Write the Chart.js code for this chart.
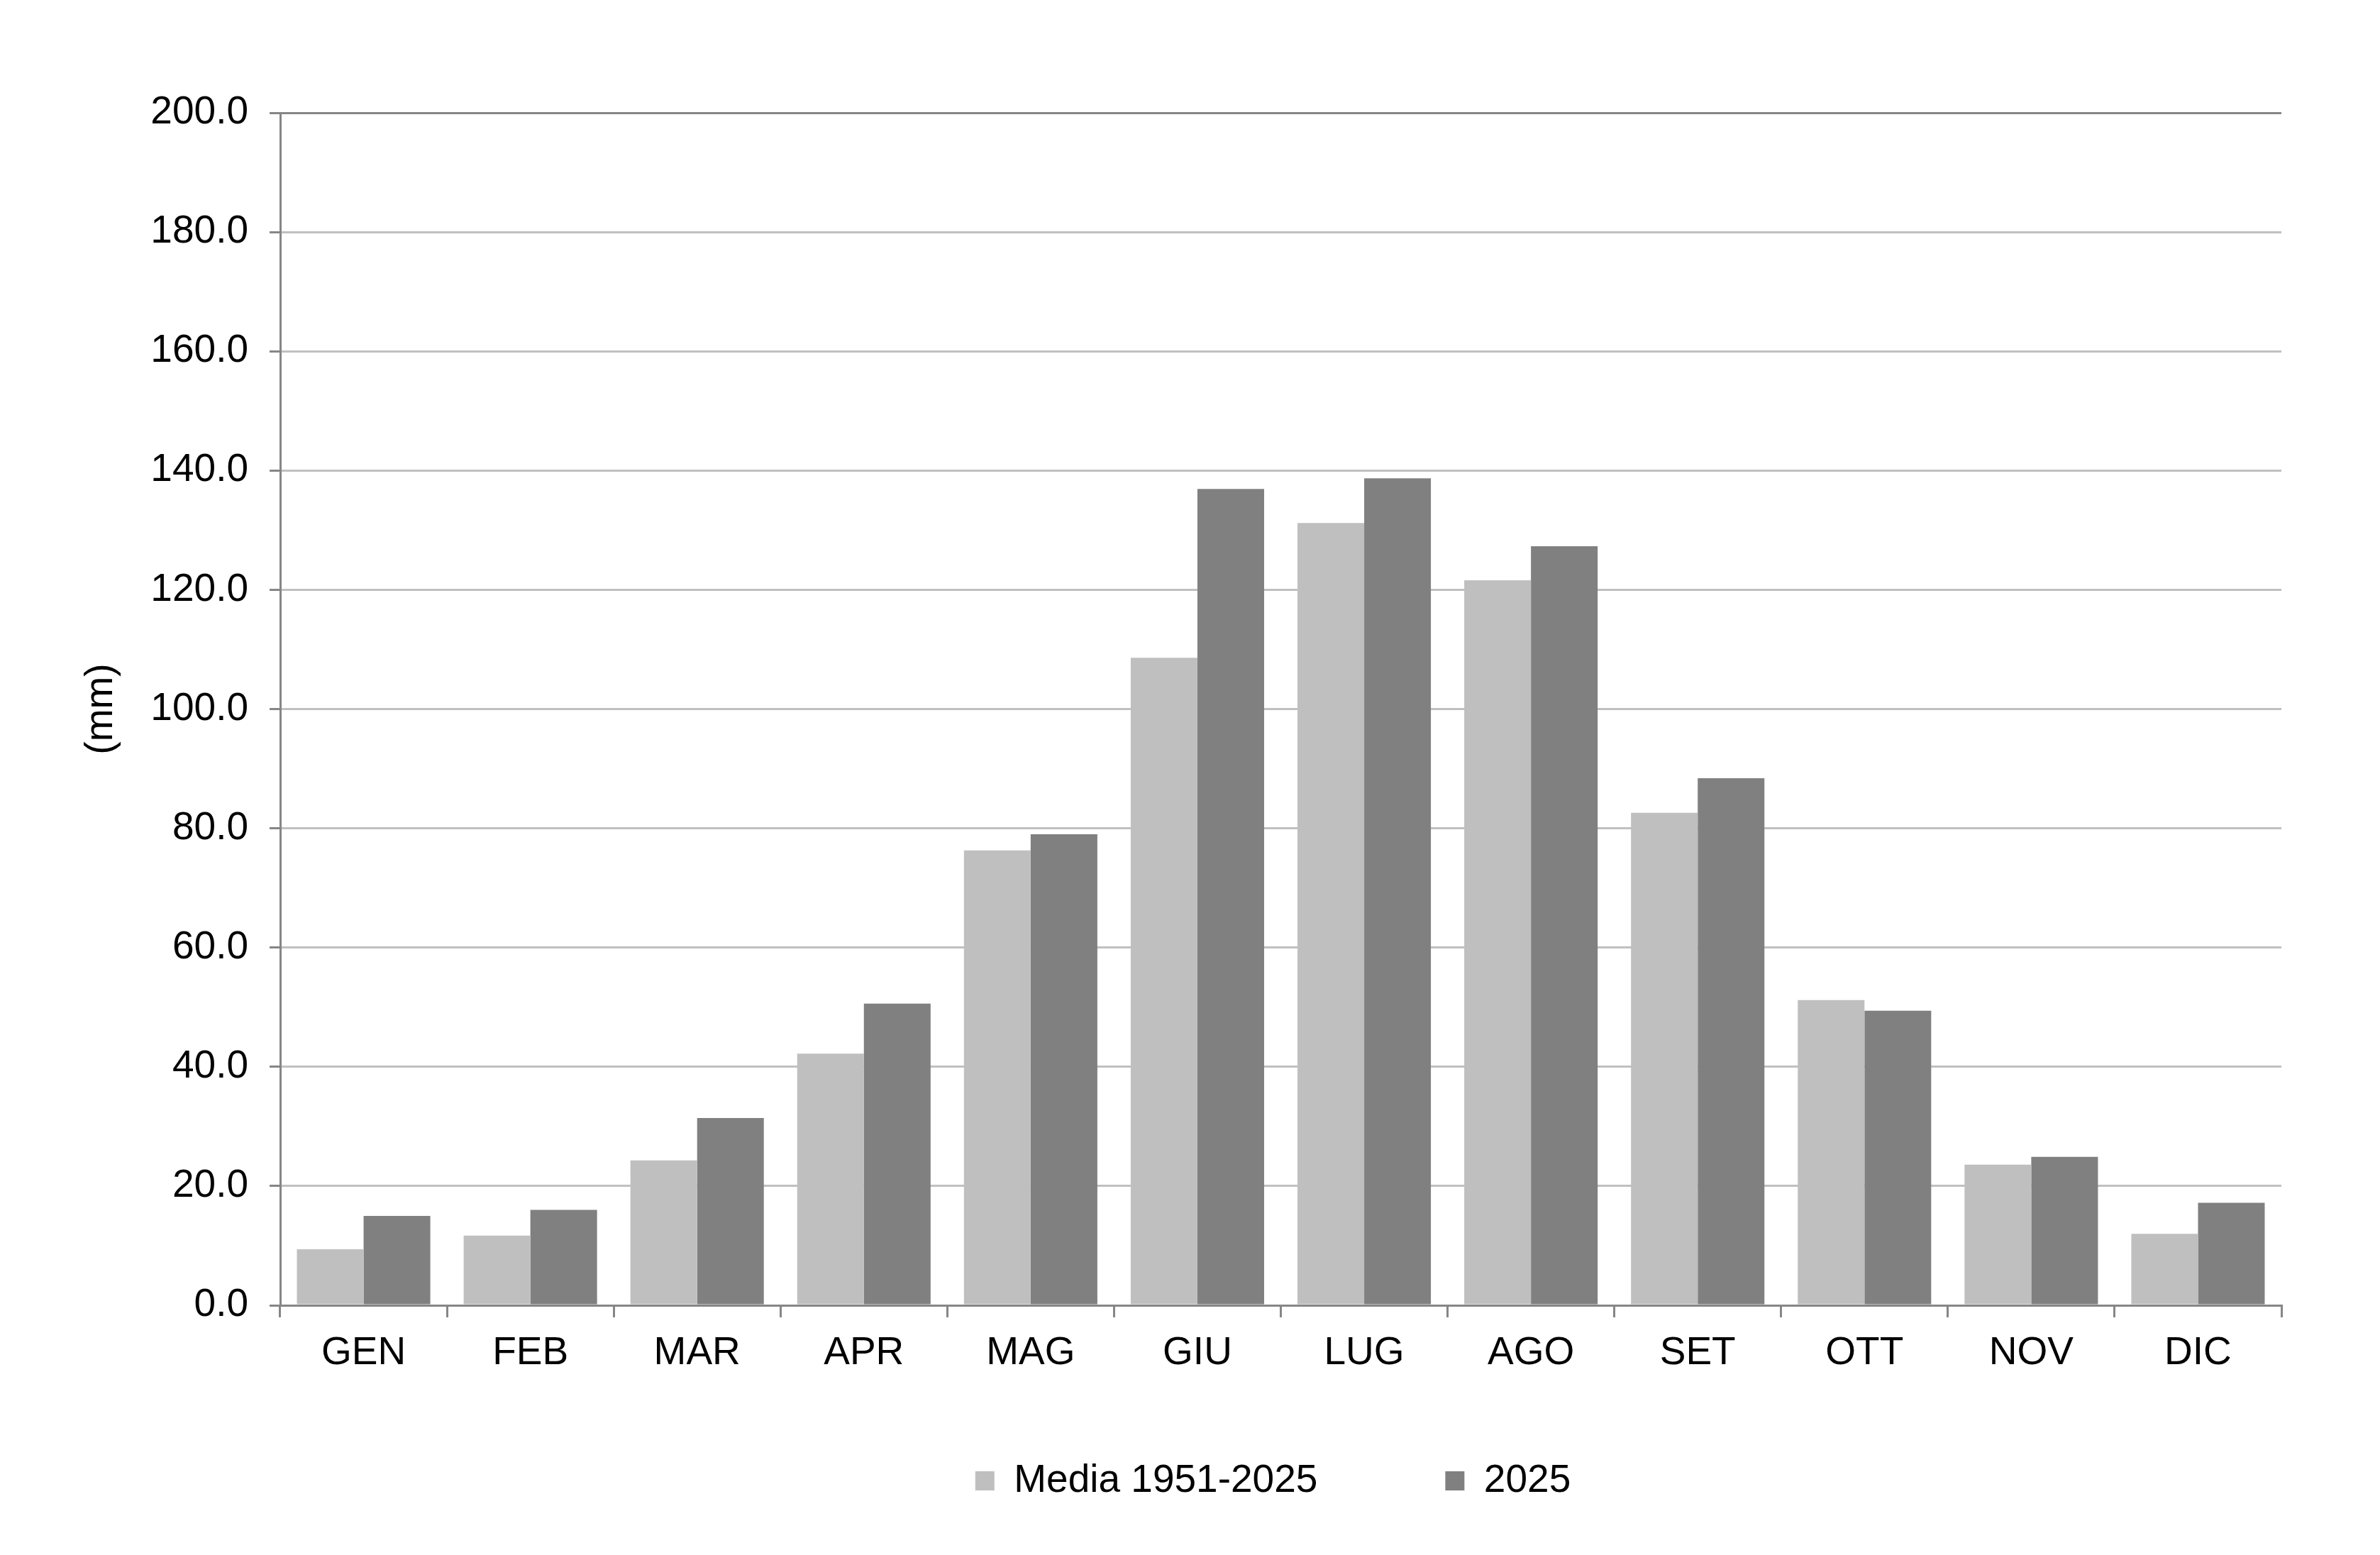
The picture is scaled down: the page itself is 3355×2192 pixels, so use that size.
<!DOCTYPE html>
<html>
<head>
<meta charset="utf-8">
<script src="https://cdn.jsdelivr.net/npm/chart.js@4/dist/chart.umd.min.js"></script>
<style>
  html, body { margin: 0; padding: 0; background: #ffffff; }
  canvas { display: block; }
</style>
</head>
<body>
<canvas id="chart" width="3355" height="2192"></canvas>
<script>
// mesi e valori (mm)
const months = ['GEN', 'FEB', 'MAR', 'APR', 'MAG', 'GIU', 'LUG', 'AGO', 'SET', 'OTT', 'NOV', 'DIC'];
const media = [9.4, 11.7, 24.3, 42.2, 76.3, 108.6, 131.2, 121.6, 82.6, 51.2, 23.6, 12.0];
const anno2025 = [15.0, 16.0, 31.4, 50.6, 79.0, 136.9, 138.7, 127.3, 88.4, 49.4, 24.9, 17.2];
const seriesNames = ['Media 1951-2025', '2025'];

const axisGray = '#868686';
const gridGray = '#c0c0c0';
const font = { family: '"Liberation Sans", Arial, sans-serif', size: 55 };

// la legenda ha bisogno di molto spazio orizzontale: la riporto un po' piu' in alto
const legendShift = {
    id: 'legendShift',
    afterLayout(chart) {
        const lg = chart.legend;
        if (!lg) return;
        lg.top -= 67;
        lg.bottom -= 67;
        lg.left -= 11;
        lg.right -= 11;
    }
};

new Chart(document.getElementById('chart'), {
    type: 'bar',
    data: {
        labels: months,
        datasets: [
            { label: seriesNames[0], data: media, backgroundColor: '#bfbfbf' },
            { label: seriesNames[1], data: anno2025, backgroundColor: '#808080' }
        ]
    },
    plugins: [legendShift],
    options: {
        responsive: false,
        animation: false,
        devicePixelRatio: 1,
        layout: { padding: { left: 110, right: 139, top: 159, bottom: 0 } },
        datasets: { bar: { categoryPercentage: 0.8, barPercentage: 1.0 } },
        plugins: {
            tooltip: { enabled: false },
            legend: {
                position: 'bottom',
                fullSize: false,
                labels: { font: font, color: '#000', boxWidth: 27, boxHeight: 27, padding: 180 }
            }
        },
        scales: {
            x: {
                afterFit: s => { s.height = 107; },
                grid: {
                    offset: true,
                    drawOnChartArea: true,
                    color: ctx => ctx.index === months.length ? axisGray : 'rgba(0,0,0,0)',
                    lineWidth: 3,
                    tickColor: axisGray,
                    tickLength: 17
                },
                border: { color: axisGray, width: 3 },
                ticks: { font: font, color: '#000', padding: 18, maxRotation: 0, autoSkip: false }
            },
            y: {
                min: 0,
                max: 200,
                afterFit: s => { s.width = 285; },
                grid: {
                    color: ctx => ctx.index === 10 ? axisGray : gridGray,
                    lineWidth: 3,
                    tickColor: axisGray,
                    tickLength: 15
                },
                border: { color: axisGray, width: 3 },
                ticks: {
                    stepSize: 20,
                    font: font,
                    color: '#000',
                    padding: 30,
                    callback: v => v.toFixed(1)
                },
                title: { display: true, text: '(mm)', font: font, color: '#000', padding: 0 }
            }
        }
    }
});
</script>
</body>
</html>
